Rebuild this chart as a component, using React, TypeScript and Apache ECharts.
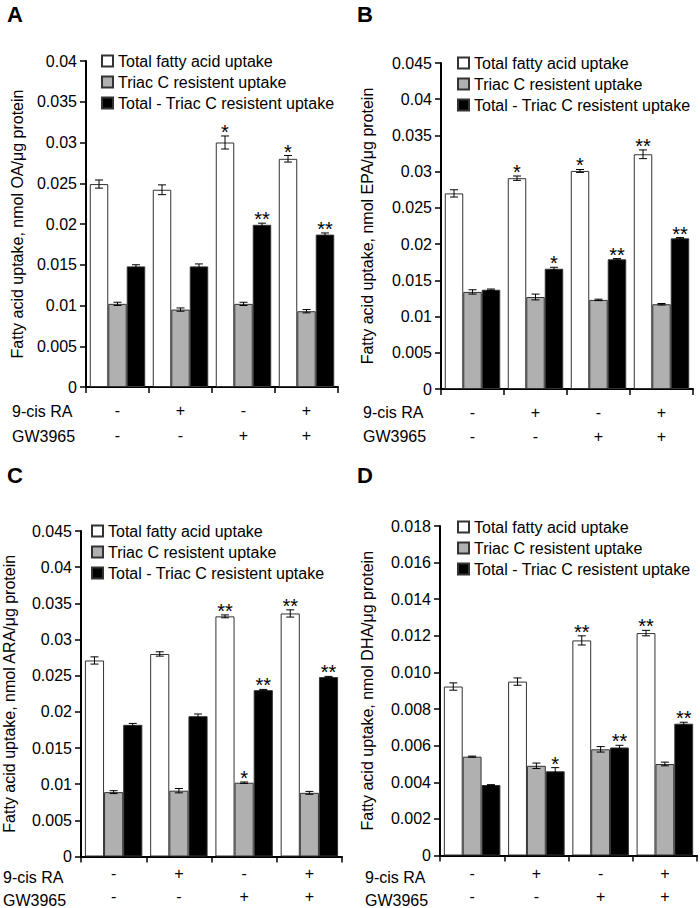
import React, { useEffect, useRef } from "react";
import * as echarts from "echarts";

// ---- shared categories / labels ----
const raSigns = ["-", "+", "-", "+"];
const gwSigns = ["-", "-", "+", "+"];
const rowLabels = ["9-cis RA", "GW3965"];
const seriesNames = [
  "Total fatty acid uptake",
  "Triac C resistent uptake",
  "Total - Triac C resistent uptake",
];

// ---- Panel A (OA) ----
const aTotal = [0.0249, 0.0242, 0.03, 0.028];
const aTotalErr = [0.0005, 0.0006, 0.0008, 0.0004];
const aResist = [0.0102, 0.0095, 0.0102, 0.0093];
const aResistErr = [0.0002, 0.0002, 0.0002, 0.0002];
const aDiff = [0.0148, 0.0148, 0.0199, 0.0187];
const aDiffErr = [0.0002, 0.0003, 0.0002, 0.0002];
const aStarsTotal = ["", "", "*", "*"];
const aStarsResist = ["", "", "", ""];
const aStarsDiff = ["", "", "**", "**"];

// ---- Panel B (EPA) ----
const bTotal = [0.027, 0.0291, 0.0301, 0.0324];
const bTotalErr = [0.0005, 0.0003, 0.0002, 0.0006];
const bResist = [0.0134, 0.0127, 0.0123, 0.0117];
const bResistErr = [0.0003, 0.0004, 0.0001, 0.0001];
const bDiff = [0.0137, 0.0166, 0.0179, 0.0208];
const bDiffErr = [0.0001, 0.0002, 0.0001, 0.0001];
const bStarsTotal = ["", "*", "*", "**"];
const bStarsResist = ["", "", "", ""];
const bStarsDiff = ["", "*", "**", "**"];

// ---- Panel C (ARA) ----
const cTotal = [0.0271, 0.028, 0.0332, 0.0336];
const cTotalErr = [0.0005, 0.0003, 0.0002, 0.0005];
const cResist = [0.0089, 0.0091, 0.0102, 0.0088];
const cResistErr = [0.0002, 0.0003, 0.0001, 0.0002];
const cDiff = [0.0182, 0.0194, 0.023, 0.0248];
const cDiffErr = [0.0002, 0.0003, 0.0001, 0.0001];
const cStarsTotal = ["", "", "**", "**"];
const cStarsResist = ["", "", "*", ""];
const cStarsDiff = ["", "", "**", "**"];

// ---- Panel D (DHA) ----
const dTotal = [0.00923, 0.0095, 0.01175, 0.01215];
const dTotalErr = [0.0002, 0.0002, 0.00025, 0.00015];
const dResist = [0.0054, 0.0049, 0.0058, 0.005];
const dResistErr = [0.00003, 0.00015, 0.00015, 0.0001];
const dDiff = [0.00385, 0.0046, 0.0059, 0.0072];
const dDiffErr = [0.00002, 0.0002, 0.00012, 0.00008];
const dStarsTotal = ["", "", "**", "**"];
const dStarsResist = ["", "", "", ""];
const dStarsDiff = ["", "*", "**", "**"];

const FONT = "'Liberation Sans', Arial, sans-serif";
const BAR_GAP_PCT = 0.12;
const barColors = ["#ffffff", "#b0b0b0", "#000000"];

const panels = [
  {
    letter: "A", letterX: 7, letterY: 15,
    grid: { left: 86, top: 61, width: 252, height: 326 },
    yMax: 0.04, interval: 0.005, fixed3: false,
    yName: "Fatty acid uptake, nmol OA/μg protein", nameGap: 61,
    legend: { left: 101, top: 53 },
    rowY: [411, 436], rowX: 12, xMargin: 11, xLH: 25,
    values: [aTotal, aResist, aDiff], errs: [aTotalErr, aResistErr, aDiffErr],
    stars: [aStarsTotal, aStarsResist, aStarsDiff],
  },
  {
    letter: "B", letterX: 357, letterY: 15,
    grid: { left: 441, top: 63, width: 252, height: 326 },
    yMax: 0.045, interval: 0.005, fixed3: false,
    yName: "Fatty acid uptake, nmol EPA/μg protein", nameGap: 66,
    legend: { left: 457, top: 55 },
    rowY: [412, 436], rowX: 363, xMargin: 11, xLH: 24,
    values: [bTotal, bResist, bDiff], errs: [bTotalErr, bResistErr, bDiffErr],
    stars: [bStarsTotal, bStarsResist, bStarsDiff],
  },
  {
    letter: "C", letterX: 7, letterY: 476,
    grid: { left: 79, top: 531, width: 263, height: 329 },
    yMax: 0.045, interval: 0.005, fixed3: false,
    yName: "Fatty acid uptake, nmol ARA/μg protein", nameGap: 64,
    legend: { left: 91, top: 523 },
    rowY: [877, 900], rowX: 3, xMargin: 5.5, xLH: 23,
    values: [cTotal, cResist, cDiff], errs: [cTotalErr, cResistErr, cDiffErr],
    stars: [cStarsTotal, cStarsResist, cStarsDiff],
  },
  {
    letter: "D", letterX: 357, letterY: 476,
    grid: { left: 440, top: 526, width: 257, height: 333 },
    yMax: 0.018, interval: 0.002, fixed3: true,
    yName: "Fatty acid uptake, nmol DHA/μg protein", nameGap: 65,
    legend: { left: 457, top: 519 },
    rowY: [877, 900], rowX: 365, xMargin: 6.5, xLH: 23,
    values: [dTotal, dResist, dDiff], errs: [dTotalErr, dResistErr, dDiffErr],
    stars: [dStarsTotal, dStarsResist, dStarsDiff],
  },
];

function buildOption() {
  const categories = raSigns.map((r, i) => r + "\n" + gwSigns[i]);
  const grid: any[] = [];
  const xAxis: any[] = [];
  const yAxis: any[] = [];
  const legend: any[] = [];
  const series: any[] = [];
  const graphic: any[] = [];

  panels.forEach((p, gi) => {
    grid.push({ ...p.grid, containLabel: false });
    xAxis.push({
      type: "category",
      gridIndex: gi,
      data: categories,
      axisLine: { lineStyle: { color: "#000", width: 2 } },
      axisTick: { show: true, length: 6, lineStyle: { color: "#000", width: 1.5 } },
      axisLabel: {
        color: "#000",
        fontFamily: FONT,
        fontSize: 16,
        lineHeight: p.xLH,
        margin: p.xMargin,
        interval: 0,
      },
    });
    yAxis.push({
      type: "value",
      gridIndex: gi,
      min: 0,
      max: p.yMax,
      interval: p.interval,
      name: p.yName,
      nameLocation: "middle",
      nameGap: p.nameGap,
      nameTextStyle: { color: "#000", fontFamily: FONT, fontSize: 16 },
      splitLine: { show: false },
      axisLine: { show: true, lineStyle: { color: "#000", width: 2 } },
      axisTick: { show: true, length: 6, lineStyle: { color: "#000", width: 1.5 } },
      axisLabel: {
        color: "#000",
        fontFamily: FONT,
        fontSize: 16,
        margin: 9,
        formatter: (v: number) =>
          v === 0 ? "0" : p.fixed3 ? v.toFixed(3) : String(parseFloat(v.toFixed(4))),
      },
    });
    legend.push({
      orient: "vertical",
      left: p.legend.left,
      top: p.legend.top,
      data: seriesNames,
      icon: "rect",
      itemWidth: 11,
      itemHeight: 11,
      itemGap: 5,
      padding: 0,
      selectedMode: false,
      textStyle: { color: "#000", fontFamily: FONT, fontSize: 16 },
    });
    p.values.forEach((vals, si) => {
      series.push({
        type: "bar",
        name: seriesNames[si],
        xAxisIndex: gi,
        yAxisIndex: gi,
        data: vals,
        barGap: "0%",
        barCategoryGap: BAR_GAP_PCT * 100 + "%",
        itemStyle: { color: barColors[si], borderColor: "#333", borderWidth: 1 },
        emphasis: { disabled: true },
      });
    });
    // error bars + significance stars
    const errData: any[] = [];
    const starText: string[] = [];
    p.values.forEach((vals, si) => {
      vals.forEach((v, ci) => {
        errData.push([ci, v, p.errs[si][ci], si]);
        starText.push(p.stars[si][ci]);
      });
    });
    series.push({
      type: "custom",
      xAxisIndex: gi,
      yAxisIndex: gi,
      data: errData,
      z: 10,
      silent: true,
      encode: { x: 0, y: 1 },
      renderItem: (params: any, api: any) => {
        const ci = api.value(0);
        const v = api.value(1);
        const e = api.value(2);
        const si = api.value(3);
        const catW = api.size([1, 0])[0];
        const bw = (catW * (1 - BAR_GAP_PCT)) / 3;
        const c = api.coord([ci, v]);
        const x = c[0] + (si - 1) * bw;
        const yTop = api.coord([ci, v + e])[1];
        const yBot = api.coord([ci, v - e])[1];
        const cap = 4;
        const ls = { stroke: "#000", lineWidth: 1 };
        const children: any[] = [
          { type: "line", shape: { x1: x, y1: yTop, x2: x, y2: yBot }, style: ls },
          { type: "line", shape: { x1: x - cap, y1: yTop, x2: x + cap, y2: yTop }, style: ls },
          { type: "line", shape: { x1: x - cap, y1: yBot, x2: x + cap, y2: yBot }, style: ls },
        ];
        const st = starText[params.dataIndex];
        if (st) {
          children.push({
            type: "text",
            style: {
              text: st,
              x: x,
              y: yTop - 4,
              align: "center",
              verticalAlign: "middle",
              fontFamily: FONT,
              fontSize: 20,
              fill: "#000",
            },
          });
        }
        return { type: "group", children };
      },
    });
    graphic.push({
      type: "text",
      left: p.letterX,
      top: p.letterY - 12,
      style: { text: p.letter, fontFamily: FONT, fontSize: 22, fontWeight: "bold", fill: "#000" },
    });
    rowLabels.forEach((t, ri) => {
      graphic.push({
        type: "text",
        x: p.rowX,
        y: p.rowY[ri],
        style: {
          text: t,
          fontFamily: FONT,
          fontSize: 16,
          fill: "#000",
          align: "left",
          verticalAlign: "middle",
        },
      });
    });
  });

  return {
    animation: false,
    backgroundColor: "#fff",
    grid,
    xAxis,
    yAxis,
    legend,
    series,
    graphic,
  };
}

export default function App() {
  const ref = useRef<HTMLDivElement>(null);
  useEffect(() => {
    if (!ref.current) return;
    const chart = echarts.init(ref.current, undefined, { renderer: "svg" });
    chart.setOption(buildOption() as any);
    return () => chart.dispose();
  }, []);
  return (
    <div
      ref={ref}
      style={{ position: "absolute", left: 0, top: 0, width: 700, height: 908, background: "#fff" }}
    />
  );
}
